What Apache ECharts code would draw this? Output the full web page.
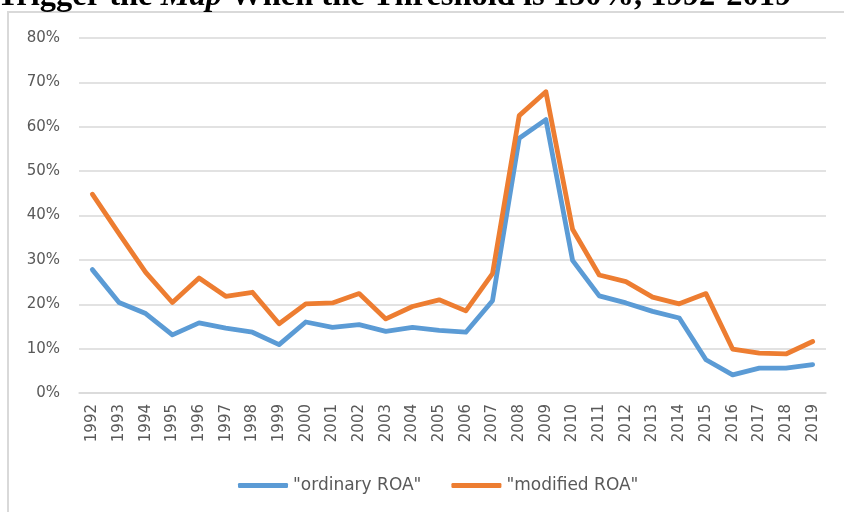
<!DOCTYPE html>
<html>
<head>
<meta charset="utf-8">
<title>ROA 1992-2019</title>
<script src="https://cdn.jsdelivr.net/npm/echarts@6/dist/echarts.min.js"></script>
<style>
  html, body { margin: 0; padding: 0; background: #fff; }
  #main { width: 844px; height: 512px; }
</style>
</head>
<body>
<div id="main"></div>
<script>
// years on the x axis
var years = ['1992','1993','1994','1995','1996','1997','1998','1999','2000','2001',
             '2002','2003','2004','2005','2006','2007','2008','2009','2010','2011',
             '2012','2013','2014','2015','2016','2017','2018','2019'];

// values in percent
var ordinaryROA = [27.8, 20.4, 17.9, 13.1, 15.8, 14.6, 13.7, 10.9, 16.0, 14.8,
                   15.4, 13.9, 14.8, 14.1, 13.7, 20.8, 57.4, 61.6, 29.9, 21.9,
                   20.3, 18.4, 16.9, 7.5, 4.1, 5.6, 5.6, 6.4];
var modifiedROA = [44.8, 35.9, 27.2, 20.4, 25.9, 21.8, 22.7, 15.6, 20.1, 20.3,
                   22.4, 16.7, 19.5, 21.0, 18.5, 26.9, 62.5, 67.9, 36.9, 26.6,
                   25.1, 21.6, 20.1, 22.4, 9.9, 9.0, 8.8, 11.6];

var seriesNames = ['"ordinary ROA"', '"modified ROA"'];

var myChart = echarts.init(document.getElementById('main'), null, { renderer: 'canvas' });

var option = {
    backgroundColor: '#fff',
    animation: false,
    color: ['#5B9BD5', '#ED7D31'],
    graphic: [
        // outer chart frame (only top and left edges are visible)
        {
            type: 'rect',
            z: -10,
            shape: { x: 8, y: 12, width: 900, height: 600 },
            style: { fill: 'none', stroke: '#D9D9D9', lineWidth: 2 }
        },
        // figure caption, cut off at the top of the picture
        {
            type: 'text',
            x: -3,
            y: -3,
            style: {
                text: '{b|Trigger the }{i|Map}{b| When the Threshold is 150%, 1992-2019}',
                verticalAlign: 'middle',
                rich: {
                    b: { font: 'bold 32.5px "Liberation Serif"', fill: '#000' },
                    i: { font: 'italic bold 32.5px "Liberation Serif"', fill: '#000' }
                }
            }
        }
    ],
    grid: {
        left: 79,
        right: 18,
        top: 38,
        bottom: 119,
        containLabel: false
    },
    legend: {
        data: seriesNames,
        bottom: 13,
        left: 233,
        itemWidth: 50,
        itemHeight: 5,
        itemGap: 30,
        icon: 'roundRect',
        textStyle: {
            fontFamily: 'DejaVu Sans',
            fontSize: 17,
            color: '#595959'
        }
    },
    xAxis: {
        type: 'category',
        data: years,
        boundaryGap: true,
        axisLine: { lineStyle: { color: '#D9D9D9', width: 1.5 } },
        axisTick: { show: false },
        axisLabel: {
            rotate: 90,
            margin: 11,
            interval: 0,
            fontFamily: 'DejaVu Sans',
            fontSize: 15,
            color: '#595959'
        }
    },
    yAxis: {
        type: 'value',
        min: 0,
        max: 80,
        interval: 10,
        axisLine: { show: false },
        axisTick: { show: false },
        splitLine: { lineStyle: { color: '#D9D9D9', width: 1.5 } },
        axisLabel: {
            margin: 19,
            fontFamily: 'DejaVu Sans',
            fontSize: 15,
            color: '#595959',
            formatter: '{value}%'
        }
    },
    series: [
        {
            name: seriesNames[0],
            type: 'line',
            data: ordinaryROA,
            showSymbol: false,
            symbol: 'none',
            lineStyle: { width: 4.8, join: 'round', cap: 'round' }
        },
        {
            name: seriesNames[1],
            type: 'line',
            data: modifiedROA,
            showSymbol: false,
            symbol: 'none',
            lineStyle: { width: 4.8, join: 'round', cap: 'round' }
        }
    ]
};

myChart.setOption(option);
</script>
</body>
</html>
